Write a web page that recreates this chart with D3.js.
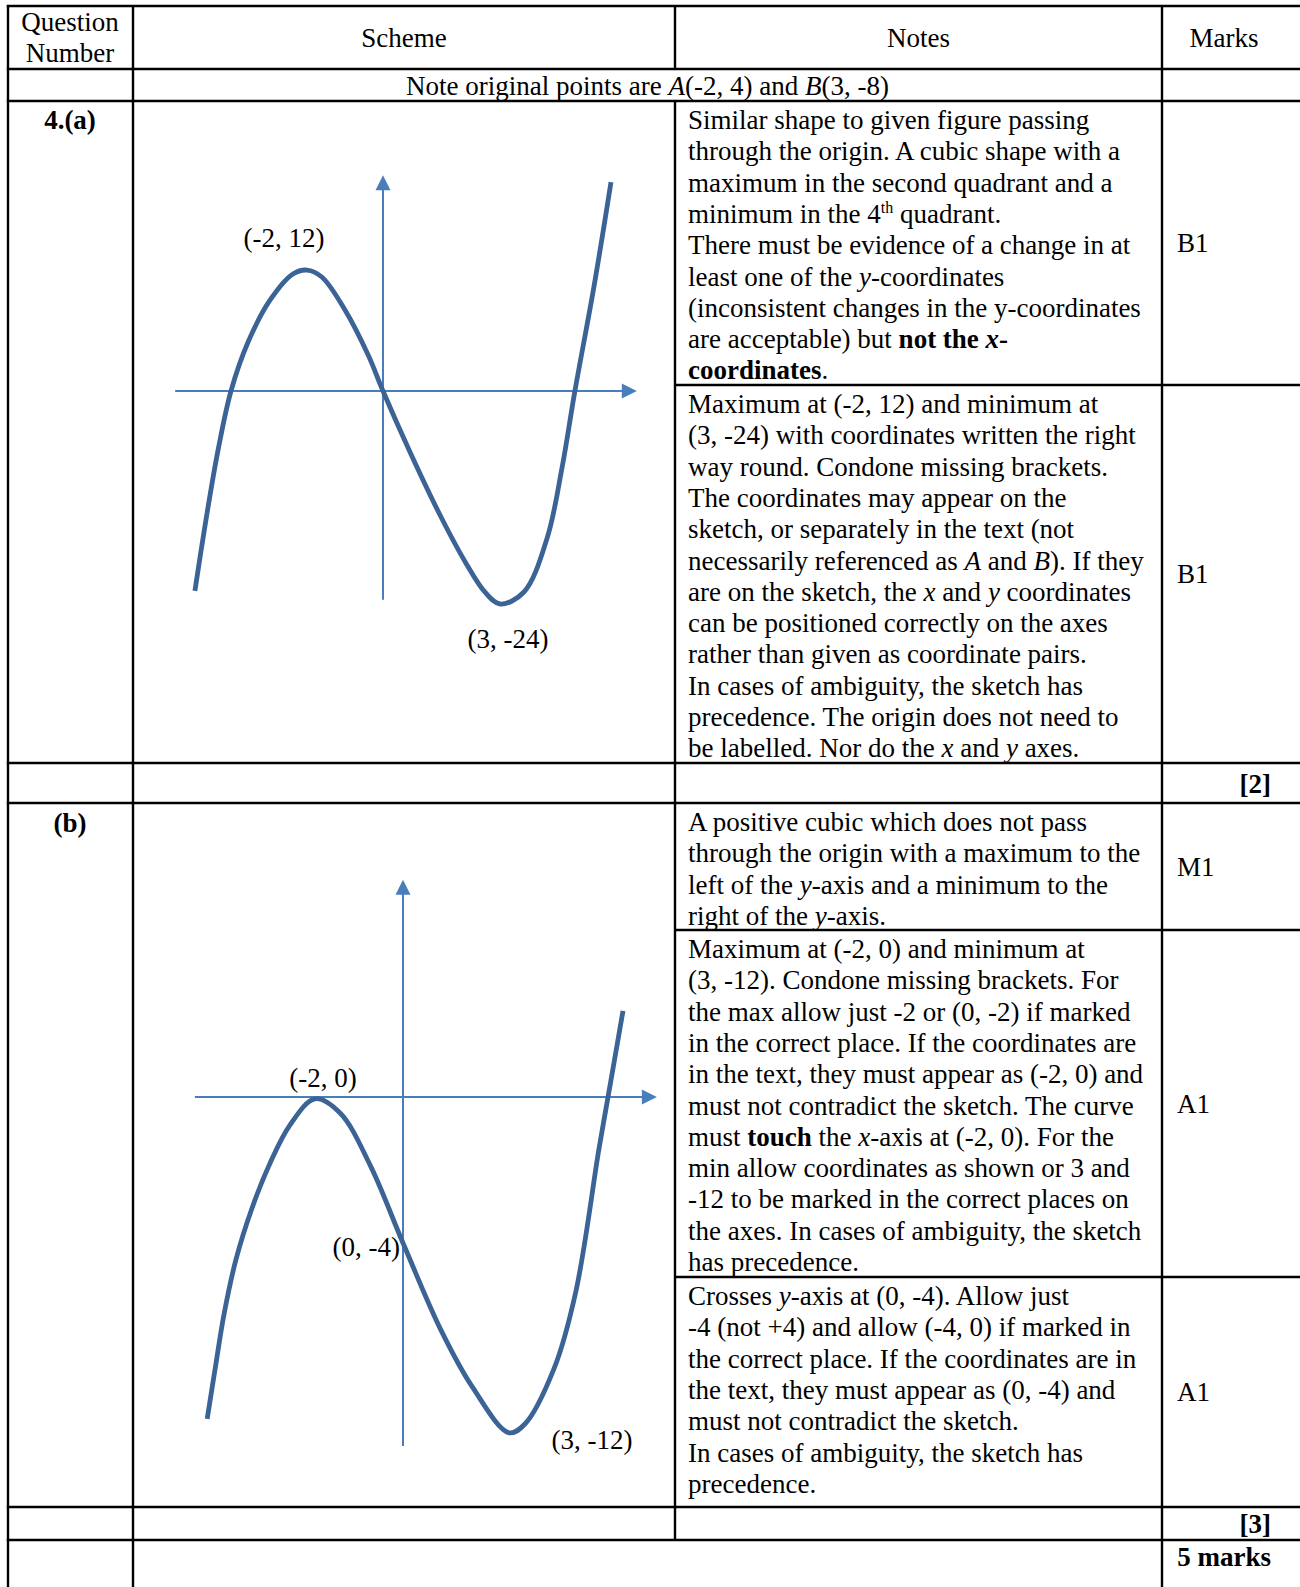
<!DOCTYPE html>
<html>
<head>
<meta charset="utf-8">
<script src="https://cdn.jsdelivr.net/npm/d3@7"></script>
<style>
body { margin: 0; background: #fff; }
svg text { font-family: "Liberation Serif", "Times New Roman", serif; font-size: 27px; fill: #000; white-space: pre; }
</style>
</head>
<body>
<div id="sheet"></div>
<script>
// ---- table text ----
var headers = ["Scheme", "Notes", "Marks"];
var questionHead = ["Question", "Number"];
var noteLine = "Note original points are _A_(-2, 4) and _B_(3, -8)";
var partLabels = ["4.(a)", "(b)"];

var notesA1 = [
	"Similar shape to given figure passing",
	"through the origin. A cubic shape with a",
	"maximum in the second quadrant and a",
	"minimum in the 4^th^ quadrant.",
	"There must be evidence of a change in at",
	"least one of the _y_-coordinates",
	"(inconsistent changes in the y-coordinates",
	"are acceptable) but **not the **#x#**-**",
	"**coordinates**."
];
var notesA2 = [
	"Maximum at (-2, 12) and minimum at",
	"(3, -24) with coordinates written the right",
	"way round. Condone missing brackets.",
	"The coordinates may appear on the",
	"sketch, or separately in the text (not",
	"necessarily referenced as _A_ and _B_). If they",
	"are on the sketch, the _x_ and _y_ coordinates",
	"can be positioned correctly on the axes",
	"rather than given as coordinate pairs.",
	"In cases of ambiguity, the sketch has",
	"precedence. The origin does not need to",
	"be labelled. Nor do the _x_ and _y_ axes."
];
var notesB1 = [
	"A positive cubic which does not pass",
	"through the origin with a maximum to the",
	"left of the _y_-axis and a minimum to the",
	"right of the _y_-axis."
];
var notesB2 = [
	"Maximum at (-2, 0) and minimum at",
	"(3, -12). Condone missing brackets. For",
	"the max allow just -2 or (0, -2) if marked",
	"in the correct place. If the coordinates are",
	"in the text, they must appear as (-2, 0) and",
	"must not contradict the sketch. The curve",
	"must **touch** the _x_-axis at (-2, 0). For the",
	"min allow coordinates as shown or 3 and",
	"-12 to be marked in the correct places on",
	"the axes. In cases of ambiguity, the sketch",
	"has precedence."
];
var notesB3 = [
	"Crosses _y_-axis at (0, -4). Allow just",
	"-4 (not +4) and allow (-4, 0) if marked in",
	"the correct place. If the coordinates are in",
	"the text, they must appear as (0, -4) and",
	"must not contradict the sketch.",
	"In cases of ambiguity, the sketch has",
	"precedence."
];
var marks = ["B1", "B1", "M1", "A1", "A1"];
var totals = ["[2]", "[3]", "5 marks"];

// ---- sketch (a): curve, [x, y] ----
var curveA = [
	[-4.95, -19.84], [-4.66, -12.8], [-4.34, -5.85], [-4.0, 0], [-3.55, 4.86],
	[-2.97, 9.03], [-2.37, 11.61], [-2.0, 12.0], [-1.61, 11.31], [-1.0, 8.04],
	[-0.39, 3.57], [0, 0], [0.71, -6.05], [1.5, -12.3], [2.18, -17.06],
	[2.68, -19.94], [3.08, -21.13], [3.71, -19.94], [4.32, -14.58], [4.71, -7.64],
	[5.05, 0], [5.55, 10.32], [6.0, 20.73]
];
var axisA = { x: [-5.47, 6.68], y: [-20.7, 21.4] };
var labelsA = { max: "(-2, 12)", min: "(3, -24)" };

// ---- sketch (b) ----
var curveB = [
	[-4.45, -8.82], [-4.27, -7.45], [-4.07, -5.97], [-3.8, -4.47], [-3.43, -3.04],
	[-3.02, -1.81], [-2.57, -0.77], [-2.0, -0.05], [-1.43, -0.44], [-0.75, -1.86],
	[0, -4.0], [0.86, -6.38], [1.59, -7.97], [2.41, -9.2], [2.77, -8.96],
	[3.43, -7.45], [3.93, -5.32], [4.45, -1.45], [4.66, 0], [5.0, 2.36]
];
var axisB = { x: [-4.73, 5.77], y: [-9.56, 5.95] };
var labelsB = { max: "(-2, 0)", yint: "(0, -4)", min: "(3, -12)" };

// ---- layout ----
var W = 1300, H = 1587;
var svg = d3.select("#sheet").append("svg")
	.attr("width", W).attr("height", H);

var colX = [8, 133, 675, 1162];
var lineH = 31.3;
var lineColor = "#000";

function rich(g, str, x, y, anchor, extra) {
	var t = g.append("text").attr("x", x).attr("y", y)
		.attr("text-anchor", anchor || "start");
	if (extra) t.attr("font-weight", extra.bold ? "bold" : null);
	var parts = str.split(/(\*\*[^*]+\*\*|#[^#]+#|_[^_]+_|\^[^^]+\^)/);
	var shifted = false;
	parts.forEach(function (p) {
		if (!p) return;
		var ts = t.append("tspan");
		if (shifted) { ts.attr("dy", 10); shifted = false; }
		if (p.startsWith("**")) {
			ts.text(p.slice(2, -2)).attr("font-weight", "bold");
		} else if (p[0] == "#") {
			ts.text(p.slice(1, -1)).attr("font-weight", "bold").attr("font-style", "italic");
		} else if (p[0] == "_") {
			ts.text(p.slice(1, -1)).attr("font-style", "italic");
		} else if (p[0] == "^") {
			ts.text(p.slice(1, -1)).attr("dy", -10).style("font-size", "16px");
			shifted = true;
		} else {
			ts.text(p);
		}
	});
	return t;
}

// grid
var grid = svg.append("g").attr("stroke", lineColor).attr("stroke-width", 2.4);
function hline(y, x1, x2) { grid.append("line").attr("x1", x1).attr("x2", x2).attr("y1", y).attr("y2", y); }
function vline(x, y1, y2) { grid.append("line").attr("x1", x).attr("x2", x).attr("y1", y1).attr("y2", y2); }

[6, 69, 101, 763, 803, 1507, 1540].forEach(function (y) { hline(y, colX[0] - 1.2, W); });
[385, 930, 1277].forEach(function (y) { hline(y, colX[2], W); });
vline(colX[0], 5, H);
vline(colX[1], 5, H);
vline(colX[2], 5, 69);
vline(colX[2], 101, 1540);
vline(colX[3], 5, H);

var txt = svg.append("g");

// header row
rich(txt, questionHead[0], 70, 31, "middle");
rich(txt, questionHead[1], 70, 62, "middle");
rich(txt, headers[0], (colX[1] + colX[2]) / 2, 47, "middle");
rich(txt, headers[1], (colX[2] + colX[3]) / 2, 47, "middle");
rich(txt, headers[2], 1224, 47, "middle");
rich(txt, noteLine, (colX[1] + colX[3]) / 2, 95, "middle");

rich(txt, partLabels[0], 70, 129, "middle", { bold: true });
rich(txt, partLabels[1], 70, 832, "middle", { bold: true });

// notes blocks: [lines, cell top, cell bottom]
var blocks = [
	[notesA1, 101, 385],
	[notesA2, 385, 763],
	[notesB1, 803, 930],
	[notesB2, 930, 1277],
	[notesB3, 1277, 1507]
];
blocks.forEach(function (b, i) {
	b[0].forEach(function (line, j) {
		rich(txt, line, 688, b[1] + 28 + j * lineH, "start");
	});
	rich(txt, marks[i], 1177, (b[1] + b[2]) / 2 + 9, "start");
});

rich(txt, totals[0], 1271, 793, "end", { bold: true });
rich(txt, totals[1], 1271, 1533, "end", { bold: true });
rich(txt, totals[2], 1271, 1566, "end", { bold: true });

// ---- sketches ----
function sketch(curve, ax, o) {
	var x = d3.scaleLinear().domain([0, 1]).range([o.ox, o.ox + o.kx]);
	var y = d3.scaleLinear().domain([0, 1]).range([o.oy, o.oy - o.ky]);
	var g = svg.append("g");
	var axCol = "#4a7ebb", head = 15, half = 7.5;

	// x axis with arrow
	var xa = x(ax.x[0]), xb = x(ax.x[1]), y0 = y(0);
	g.append("line").attr("x1", xa).attr("x2", xb - head + 1).attr("y1", y0).attr("y2", y0)
		.attr("stroke", axCol).attr("stroke-width", 2);
	g.append("path").attr("fill", axCol)
		.attr("d", "M" + xb + "," + y0 + "L" + (xb - head) + "," + (y0 - half) + "L" + (xb - head) + "," + (y0 + half) + "Z");

	// y axis with arrow
	var x0 = x(0), ya = y(ax.y[0]), yb = y(ax.y[1]);
	g.append("line").attr("x1", x0).attr("x2", x0).attr("y1", ya).attr("y2", yb + head - 1)
		.attr("stroke", axCol).attr("stroke-width", 2);
	g.append("path").attr("fill", axCol)
		.attr("d", "M" + x0 + "," + yb + "L" + (x0 - half) + "," + (yb + head) + "L" + (x0 + half) + "," + (yb + head) + "Z");

	var line = d3.line()
		.x(function (d) { return x(d[0]); })
		.y(function (d) { return y(d[1]); })
		.curve(d3.curveCatmullRom.alpha(0.5));
	g.append("path").datum(curve)
		.attr("d", line)
		.attr("fill", "none")
		.attr("stroke", "#3b6395")
		.attr("stroke-width", 4.8);

	return { g: g, x: x, y: y };
}

// turning points found from the data
function turning(curve) {
	var mid = curve.filter(function (d) { return d[0] > -3 && d[0] < 4; });
	return {
		max: d3.greatest(mid, function (d) { return d[1]; }),
		min: d3.least(mid, function (d) { return d[1]; }),
		yint: curve.find(function (d) { return d[0] == 0; })
	};
}

var sa = sketch(curveA, axisA, { ox: 383, oy: 391, kx: 38, ky: 10.08 });
var ta = turning(curveA);
rich(sa.g, labelsA.max, sa.x(ta.max[0]) - 23, sa.y(ta.max[1]) - 23, "middle");
rich(sa.g, labelsA.min, sa.x(ta.min[0]) + 8, sa.y(ta.min[1]) + 44, "middle");

var sb = sketch(curveB, axisB, { ox: 403, oy: 1097, kx: 44, ky: 36.5 });
var tb = turning(curveB);
rich(sb.g, labelsB.max, sb.x(tb.max[0]) + 8, sb.y(tb.max[1]) - 12, "middle");
rich(sb.g, labelsB.yint, sb.x(tb.yint[0]) - 3, sb.y(tb.yint[1]) + 13, "end");
rich(sb.g, labelsB.min, sb.x(tb.min[0]) + 83, sb.y(tb.min[1]) + 16, "middle");
</script>
</body>
</html>
